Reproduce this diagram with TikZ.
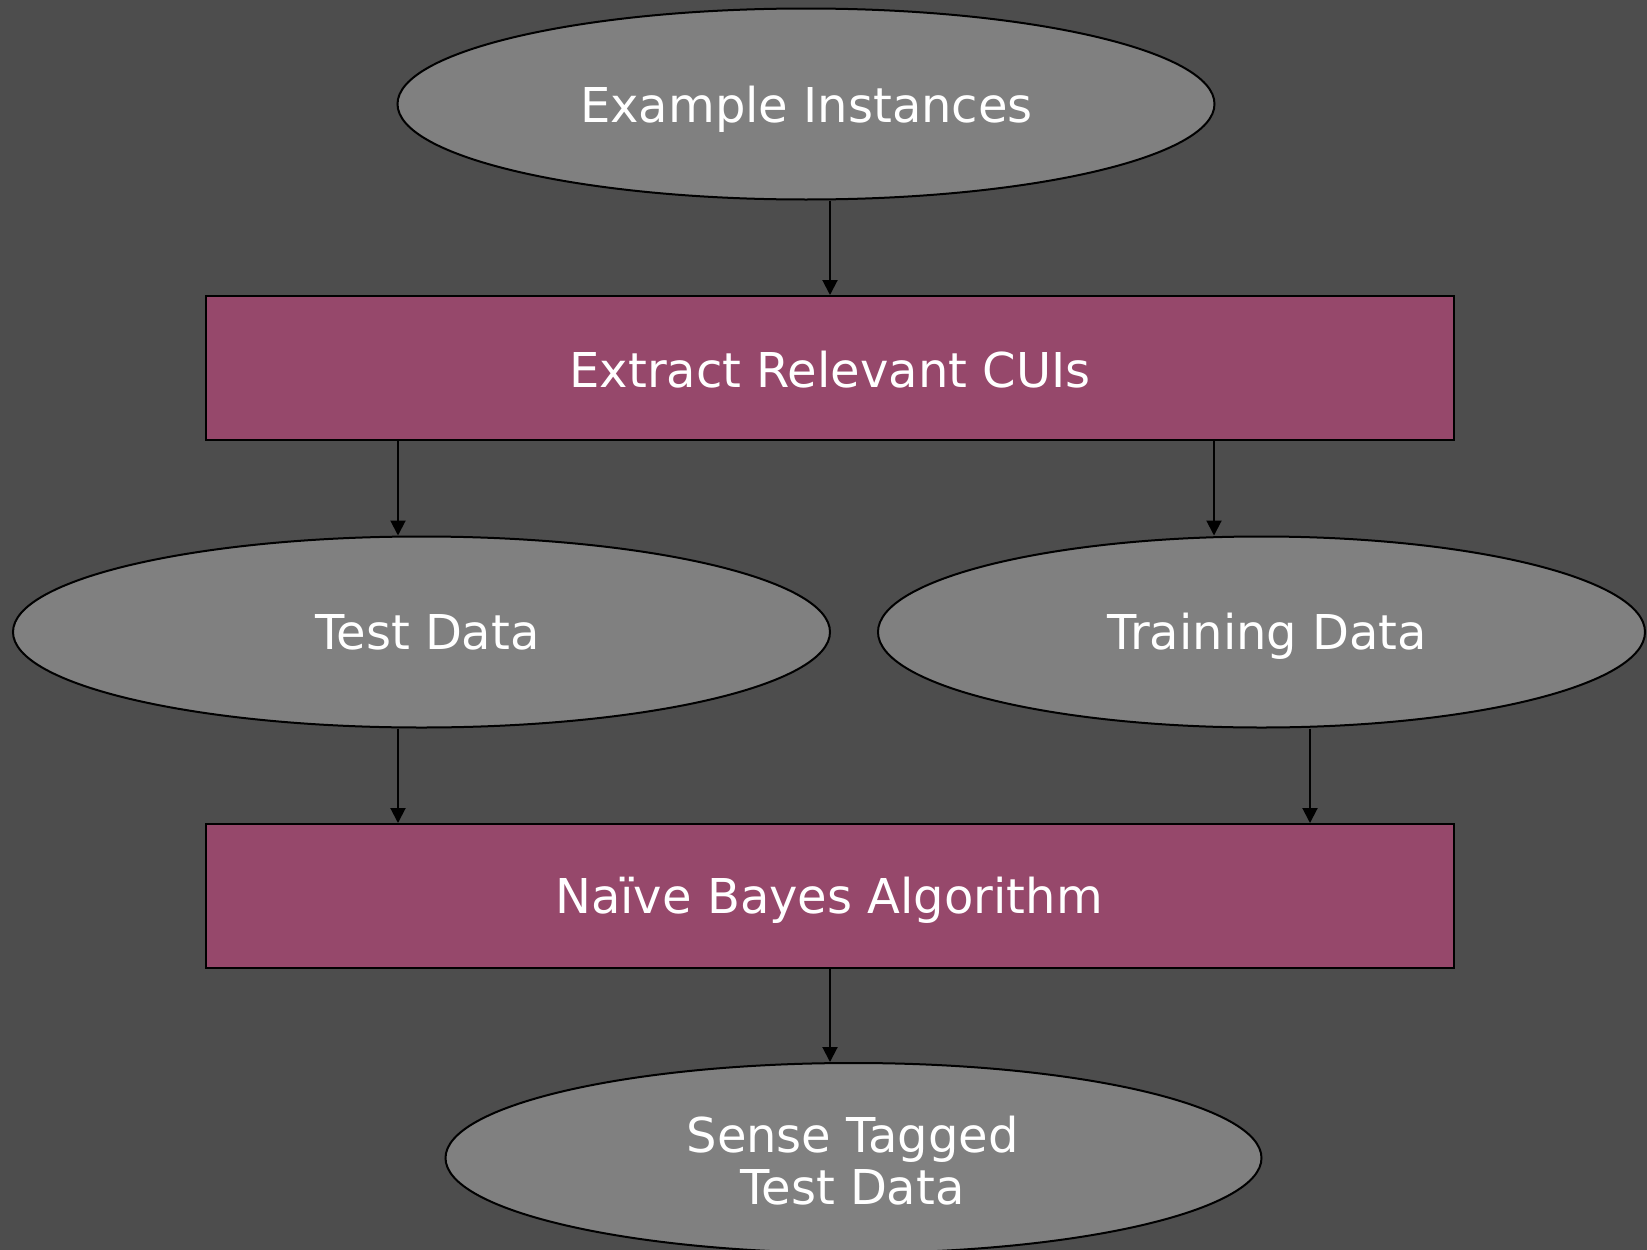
\documentclass[tikz,border=0pt]{standalone}
\usepackage{fontspec}
\setmainfont{DejaVu Sans}
\usetikzlibrary{shapes.geometric,arrows.meta}
\definecolor{bgc}{HTML}{4D4D4D}
\definecolor{datafill}{HTML}{808080}
\definecolor{procfill}{HTML}{96486B}
\begin{document}
\begin{tikzpicture}[x=1pt,y=-1pt,
  every node/.style={inner sep=0pt},
  lbl/.style={text=white,font=\fontsize{48}{52}\selectfont,anchor=base,align=center},
  data/.style={ellipse,draw=black,line width=2pt,fill=datafill},
  proc/.style={rectangle,draw=black,line width=2pt,fill=procfill,
    minimum width=1248pt,minimum height=144pt},
  flow/.style={draw=black,line width=2pt,-{Triangle[width=15pt,length=15pt]}}]
  \fill[bgc] (0,0) rectangle (1647,1250);
  \useasboundingbox (0,0) rectangle (1647,1250);

  % data sets (ellipses) and processing steps (boxes)
  \node[data,minimum width=817pt,minimum height=191pt] (ei) at (806,104) {};
  \node[proc] (ex) at (830,368) {};
  \node[data,minimum width=817pt,minimum height=191pt] (td) at (421.5,632) {};
  \node[data,minimum width=767pt,minimum height=191pt] (tr) at (1261.5,632) {};
  \node[proc] (nb) at (830,896) {};
  \node[data,minimum width=816pt,minimum height=190pt] (st) at (853.5,1158) {};

  % labels, set on their baselines (two-line label: baseline of its last line)
  \node[lbl] (eit) at (806.5,122) {Example Instances};
  \node[lbl] (ext) at (830,387) {Extract Relevant CUIs};
  \node[lbl] (tdt) at (427.5,649) {Test Data};
  \node[lbl] (trt) at (1267.5,649) {Training Data};
  \node[lbl] (nbt) at (829,913) {Na\"ive Bayes Algorithm};
  \node[lbl] (stt) at (852.5,1204) {Sense Tagged\\Test Data};

  % connector columns
  \coordinate (cm) at (830,0);
  \coordinate (cl) at (398,0);
  \coordinate (cr) at (1214,0);
  \coordinate (cr2) at (1310,0);

  \draw[flow] (ei.south -| cm) -- (ex.north -| cm);
  \draw[flow] (ex.south -| cl) -- (td.north -| cl);
  \draw[flow] (ex.south -| cr) -- (tr.north -| cr);
  \draw[flow] (td.south -| cl) -- (nb.north -| cl);
  \draw[flow] (tr.south -| cr2) -- (nb.north -| cr2);
  \draw[flow] (nb.south -| cm) -- (st.north -| cm);
\end{tikzpicture}
\end{document}
